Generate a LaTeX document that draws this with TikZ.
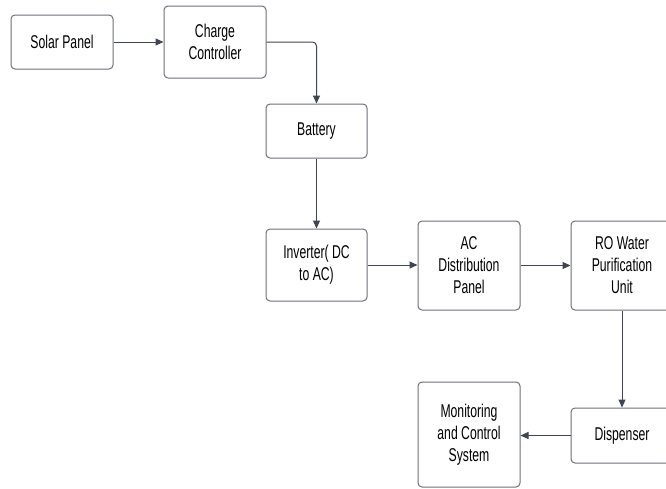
\documentclass[tikz,border=0pt]{standalone}
\usepackage{fontspec}
\setmainfont{Liberation Sans}[FakeStretch=0.66]
\usetikzlibrary{arrows.meta}
\definecolor{boxline}{HTML}{6E7178}
\definecolor{arrowline}{HTML}{3F4551}
\tikzset{
  blk/.style={draw=boxline, line width=1pt, rounded corners=4pt, fill=white,
    align=center, inner sep=2pt, font=\fontsize{18.5}{22}\selectfont, text=black},
  conn/.style={draw=arrowline, line width=1pt, -{Triangle[length=8pt,width=7pt]}}
}
\begin{document}
\begin{tikzpicture}[x=1pt,y=-1pt]
\useasboundingbox (0,0) rectangle (666,488);
\clip (0,0) rectangle (666,488);
\fill[white] (0,0) rectangle (666,488);
\node[blk, minimum width=102pt, minimum height=54pt] (solar) at (62,42) {Solar Panel};
\node[blk, minimum width=102pt, minimum height=72pt] (charge) at (215,42) {Charge\\Controller};
\node[blk, minimum width=101pt, minimum height=54pt] (battery) at (316.5,131) {Battery};
\node[blk, minimum width=101pt, minimum height=72pt] (inverter) at (316.5,265) {Inverter( DC\\to AC)};
\node[blk, minimum width=102pt, minimum height=89pt] (acdist) at (469,265.5) {AC\\Distribution\\Panel};
\node[blk, minimum width=102pt, minimum height=89pt] (ro) at (622,265.5) {RO Water\\Purification\\Unit};
\node[blk, minimum width=102pt, minimum height=55pt] (disp) at (622,435.5) {Dispenser};
\node[blk, minimum width=102pt, minimum height=105pt] (mon) at (469,434.5) {Monitoring\\and Control\\System};
\draw[conn] (solar.east) -- (charge.west);
\draw[conn, rounded corners=4pt] (charge.east) -| (battery.north);
\draw[conn] (battery.south) -- (inverter.north);
\draw[conn] (inverter.east) -- (inverter.east -| acdist.west);
\draw[conn] (acdist.east) -- (ro.west);
\draw[conn] (ro.south) -- (disp.north);
\draw[conn] (disp.west) -- (disp.west -| mon.east);
\end{tikzpicture}
\end{document}
